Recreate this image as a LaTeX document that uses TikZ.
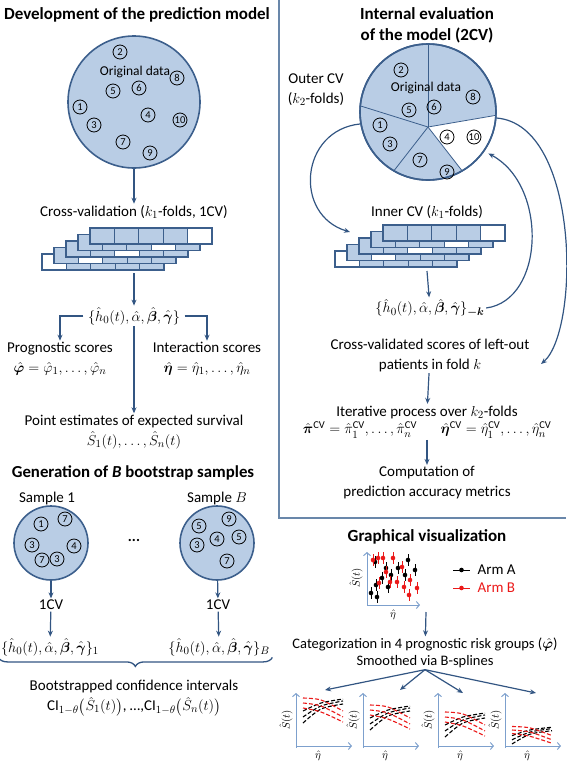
\documentclass[tikz,border=0pt]{standalone}
\usepackage{amsmath,bm}
\usepackage{fontspec}
\setmainfont{Carlito}
\usepackage{color}
\definecolor{mylightblue}{RGB}{185,205,229}
\definecolor{mydarkblue}{RGB}{60,95,140}
\definecolor{myarrowblue}{RGB}{50,85,130}
\definecolor{mygrayblue}{RGB}{105,135,170}
\definecolor{myaxisblue}{RGB}{125,160,205}
\definecolor{myred}{RGB}{235,25,25}
\usetikzlibrary{arrows.meta,positioning,decorations.pathreplacing,calc}

\begin{document}
\begin{tikzpicture}[
  x=1pt, y=1pt,
  mytext/.style={
    font=\fontsize{15}{20}\selectfont,
    align=center,
    inner sep=1.5pt
    },
  mytitle/.style={
    font=\fontsize{17}{21}\selectfont\bfseries,
    align=center,
    inner sep=1.5pt
    },
  mydata/.style={
    draw=mydarkblue,
    fill=mylightblue,
    line width=1.6pt,
    circle,
    minimum size=#1
    },
  mynum/.style={
    draw,
    circle,
    line width=0.8pt,
    inner sep=0.3pt,
    minimum size=14pt,
    font=\fontsize{10.5}{11}\selectfont
    },
  mycell/.style={
    draw=mydarkblue,
    fill=#1,
    line width=1.3pt
    },
  myflow/.style={
    draw=myarrowblue,
    line width=1.2pt,
    -{Stealth[length=6pt,width=5pt]}
    },
  myaxis/.style={
    draw=myaxisblue,
    line width=1pt,
    -{Straight Barb[length=3pt,width=7pt]}
    },
  mycurve/.style={
    draw=#1,
    line width=1.1pt,
    dash pattern=on 4pt off 2pt
    }
]

\useasboundingbox (0,0) rectangle (566,-761);

\draw[mygrayblue, line width=1.3pt] (279,0) -- (279,-518) -- (566,-518);

% left panel
\node[mytitle] (devtitle) at (137,-15) {Development of the prediction model};

\node[mydata=132pt] (orig) at (134,-102) {};
\node[mytext, font=\fontsize{13.5}{14}\selectfont] (origlabel) at (135,-72) {Original data};
\foreach \n/\x/\y in {2/120/52, 8/177/78, 5/113/91, 6/139/88, 1/80/107,
                      4/148/115, 10/180/120, 3/94/125, 7/123/142, 9/150/153}
  \node[mynum] (l\n) at (\x,-\y) {\n};

\node[mytext] (cvl) at (134,-212) {Cross-validation ($k_1$-folds, 1CV)};
\draw[myflow] (orig) -- (cvl);

\foreach \ox/\oy in {90/228, 383/225}
  \foreach \j in {4,3,2,1,0}
    \foreach \c in {1,...,5} {
      \pgfmathsetmacro\cx{\ox-12*\j+24.4*(\c-1)}
      \pgfmathsetmacro\cy{\oy+6.5*\j}
      \ifnum\c=\numexpr5-\j\relax\def\cellc{white}\else\def\cellc{mylightblue}\fi
      \draw[mycell=\cellc] (\cx,-\cy) rectangle ++(24.4,-16);
    }
\coordinate (cvlbot) at (134,-273);
\coordinate (cvrbot) at (427,-271);
\coordinate (cvrin) at (350,-232);

\node[mytext] (hset) at (134,-316)
  {$\{\hat h_0(t),\hat\alpha,\hat{\bm\beta},\hat{\bm\gamma}\}$};
\draw[myflow] (cvlbot) -- (hset);

\node[mytext] (prog) at (60,-359)
  {Prognostic scores\\$\hat{\bm\varphi}=\hat\varphi_1,\dots,\hat\varphi_n$};
\node[mytext] (inter) at (207,-359)
  {Interaction scores\\$\hat{\bm\eta}=\hat\eta_1,\dots,\hat\eta_n$};
\draw[myflow] ([xshift=-3pt]hset.west) -| (prog.north);
\draw[myflow] ([xshift=3pt]hset.east) -| (inter.north);

\node[mytext] (pest) at (134,-432)
  {Point estimates of expected survival\\$\hat S_1(t),\dots,\hat S_n(t)$};
\draw[myflow] (hset) -- (pest);

\node[mytitle, font=\fontsize{16.8}{18}\selectfont\bfseries] (boot) at (133,-473)
  {Generation of \textit{B} bootstrap samples};
\node[mytext] (s1label) at (47,-498) {Sample 1};
\node[mytext] (sBlabel) at (217,-498) {Sample $B$};

\node[mydata=74pt] (samp1) at (51,-543) {};
\node[mydata=74pt] (sampB) at (217,-543) {};
\node[mytext, font=\fontsize{15}{15}\selectfont\bfseries] (sdots) at (134,-540) {...};
\foreach \n/\x/\y [count=\i] in {1/41/524, 7/65/519, 3/32/545, 4/74/546, 7/42/560, 3/57/559}
  \node[mynum] (a\i) at (\x,-\y) {\n};
\foreach \n/\x/\y [count=\i] in {5/199/526, 9/229/519, 4/217/539, 5/239/537, 3/197/545, 7/227/561}
  \node[mynum] (b\i) at (\x,-\y) {\n};

\node[mytext] (cv1) at (51,-605) {1CV};
\node[mytext] (cvB) at (218,-605) {1CV};
\draw[myflow] (samp1) -- (cv1);
\draw[myflow] (sampB) -- (cvB);

\node[mytext] (h1) at (50,-647)
  {$\{\hat h_0(t),\hat\alpha,\hat{\bm\beta},\hat{\bm\gamma}\}_1$};
\node[mytext] (hB) at (219,-647)
  {$\{\hat h_0(t),\hat\alpha,\hat{\bm\beta},\hat{\bm\gamma}\}_B$};
\draw[myflow] (cv1) -- (h1);
\draw[myflow] (cvB) -- (hB);

\draw[decorate, decoration={brace, amplitude=9pt, mirror},
      draw=myarrowblue, line width=1.3pt]
  ([xshift=-1pt]h1.south west) -- ([xshift=1pt]hB.south east |- h1.south west);

\node[mytext] (ci) at (134,-698)
  {Bootstrapped confidence intervals\\
   $\mathrm{CI}_{1-\theta}\bigl(\hat S_1(t)\bigr)$, \dots,$\mathrm{CI}_{1-\theta}\bigl(\hat S_n(t)\bigr)$};

% right panel
\node[mytitle] (evaltitle) at (427,-25) {Internal evaluation\\of the model (2CV)};
\node[mytext] (outer) at (316,-90) {Outer CV\\($k_2$-folds)};

\node[mydata=136pt] (pie) at (428,-112) {};
\coordinate (piec) at (428,-127);
\fill[white] (piec) -- ($(pie.center)+(-3:67)$) arc[start angle=-3, end angle=-60, radius=67] -- cycle;
\foreach \a in {90,175,-3,-60,-120}
  \draw[mydarkblue, line width=0.8pt] (piec) -- ($(pie.center)+(\a:67)$);
\draw[mydarkblue, line width=1.6pt] (pie.center) circle[radius=68];
\node[mytext, font=\fontsize{13.5}{14}\selectfont] (pielabel) at (426,-88) {Original data};
\foreach \n/\x/\y in {2/401/70, 6/434/107, 8/473/97, 5/409/110, 1/380/125,
                      3/390/144, 4/447/137, 10/474/137, 7/420/160, 9/447/172}
  \node[mynum] (r\n) at (\x,-\y) {\n};

\node[mytext] (cvr) at (427,-212) {Inner CV ($k_1$-folds)};

\node[mytext] (hk) at (430,-308)
  {$\{\hat h_0(t),\hat\alpha,\hat{\bm\beta},\hat{\bm\gamma}\}_{\bm{-k}}$};
\draw[myflow] (cvrbot) -- (hk);

\node[mytext] (crossval) at (430,-355)
  {Cross-validated scores of left-out\\patients in fold $k$};
\coordinate (foldk) at ($(crossval.east)+(10,-9)$);

\draw[myflow] (pie.190) .. controls (300,-130) and (293,-215) .. (cvrin);
\draw[myflow] (hk.east) .. controls (545,-300) and (548,-185) .. ([shift={(4,-2)}]pie.-35);
\draw[myflow] (pie.-5) .. controls (580,-125) and (580,-330) .. (foldk);

\node[mytext] (iter) at (427,-412) {Iterative process over $k_2$-folds};
\draw[myflow] (crossval) -- (iter);
\node[mytext] (pin) at (360,-430)
  {$\hat{\bm\pi}^{\mathrm{CV}}=\hat\pi_1^{\mathrm{CV}},\dots,\hat\pi_n^{\mathrm{CV}}$};
\node[mytext] (etan) at (496,-430)
  {$\hat{\bm\eta}^{\mathrm{CV}}=\hat\eta_1^{\mathrm{CV}},\dots,\hat\eta_n^{\mathrm{CV}}$};

\node[mytext] (comp) at (427,-483) {Computation of\\prediction accuracy metrics};
\draw[myflow] (iter |- pin.south) -- (comp);

% graphical visualization
\node[mytitle] (graphtitle) at (427,-537) {Graphical visualization};

\coordinate (sco) at (367,-605);
\draw[myaxis] (sco) -- ++(0,53);
\draw[myaxis] (sco) -- ++(53,0);
\node[rotate=90, font=\fontsize{11}{11}\selectfont] (scs) at (356,-578) {$\hat S(t)$};
\node[font=\fontsize{11}{11}\selectfont] (sce) at (393,-615) {$\hat\eta$};
\foreach \px/\py in {371/593, 376/585, 377/597, 382/578, 386/568, 388/587, 391/575,
                     398/568, 405/575, 408/560, 415/570, 375/562}{
  \draw[black, line width=1pt] (\px,-\py+6) -- (\px,-\py-6);
  \fill[black] (\px,-\py) circle[radius=2.3];
}
\foreach \px/\py in {373/560, 378/558, 383/558, 379/583, 386/572, 390/582, 397/582,
                     402/567, 404/587, 410/580, 409/595, 417/588, 393/558}{
  \draw[myred, line width=1pt] (\px,-\py+6) -- (\px,-\py-6);
  \fill[myred] (\px,-\py) circle[radius=2.3];
}

\draw[black, line width=1pt] (453,-570) -- (470,-570);
\fill[black] (461.5,-570) circle[radius=2.3];
\node[mytext, anchor=west] (arma) at (476,-570) {Arm A};
\draw[myred, line width=1pt] (453,-588) -- (470,-588);
\fill[myred] (461.5,-588) circle[radius=2.3];
\node[mytext, anchor=west, text=myred] (armb) at (476,-588) {Arm B};

\node[mytext, font=\fontsize{14.5}{17}\selectfont] (cat) at (425,-653)
  {Categorization in 4 prognostic risk groups ($\hat{\bm\varphi}$)\\Smoothed via B-splines};
\draw[myflow] (426,-612) -- (cat);

\foreach \ax/\b/\s/\tx/\ty [count=\k] in {296/23/1/325/690, 363/16/1/400/690,
                                         438/9/1/463/693, 505/2/0.7/536/693} {
  \coordinate (grp\k) at (\tx,-\ty);
  \draw[myflow] (cat.south) -- (grp\k);
  \begin{scope}[shift={(\ax,-746)}]
    \draw[myaxis] (0,-2) -- (0,53);
    \draw[myaxis] (0,0) -- (56,0);
    \node[rotate=90, font=\fontsize{11}{11}\selectfont] (sl\k) at (-10,26) {$\hat S(t)$};
    \node[font=\fontsize{11}{11}\selectfont] (el\k) at (22,-10) {$\hat\eta$};
    \begin{scope}[shift={(0,\b)}, yscale=\s]
      \draw[mycurve=black] plot[smooth] coordinates {(7,0) (25,14) (47,19)};
      \draw[mycurve=black] plot[smooth] coordinates {(7,6) (25,17) (47,22)};
      \draw[mycurve=black] plot[smooth] coordinates {(7,12) (25,20) (47,24)};
      \draw[mycurve=myred] plot[smooth] coordinates {(7,25) (25,23) (47,12)};
      \draw[mycurve=myred] plot[smooth] coordinates {(7,20) (25,17) (47,6)};
      \draw[mycurve=myred] plot[smooth] coordinates {(7,15) (25,11) (47,1)};
    \end{scope}
  \end{scope}
}

\end{tikzpicture}
\end{document}
